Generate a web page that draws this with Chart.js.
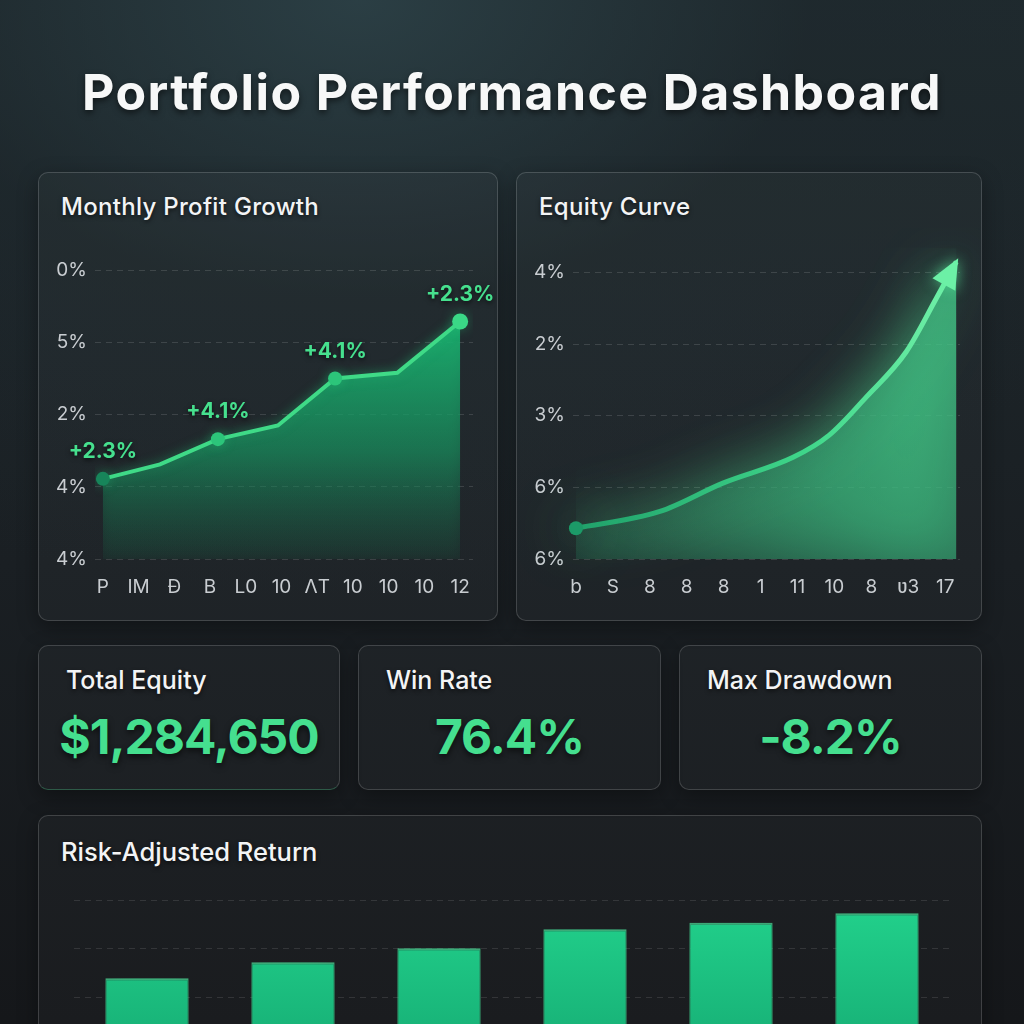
<!DOCTYPE html>
<html>
<head>
<meta charset="utf-8">
<script src="https://cdn.jsdelivr.net/npm/chart.js@4.4.1/dist/chart.umd.min.js"></script>
<style>
  html, body { margin: 0; padding: 0; width: 1024px; height: 1024px; overflow: hidden; }
  body {
    position: relative;
    font-family: Inter, "Liberation Sans", sans-serif;
    color: #f1f3f4;
    background:
      radial-gradient(ellipse 900px 600px at 35% 0%, rgba(45,66,72,0.85) 0%, rgba(30,40,45,0.5) 50%, rgba(0,0,0,0) 100%),
      linear-gradient(180deg, #1f2a2e 0%, #1a1f23 55%, #15171a 100%);
  }
  h1 {
    position: absolute; left: 0; top: 66px; width: 1024px; margin: 0;
    text-align: center; font-size: 50px; line-height: 52px; font-weight: 700; letter-spacing: 1.4px;
    color: #f7f8f8; text-shadow: 0 3px 6px rgba(0,0,0,0.55);
  }
  .card {
    position: absolute; box-sizing: border-box;
    border: 1.5px solid rgba(255,255,255,0.16); border-radius: 10px;
    background: rgba(255,255,255,0.025);
    box-shadow: 0 6px 20px rgba(0,0,0,0.35);
  }
  .card h2 {
    position: absolute; left: 22px; top: 21px; margin: 0;
    font-size: 24px; line-height: 26px; font-weight: 500; letter-spacing: 0.3px; color: #f3f4f5;
    text-shadow: 0 2px 4px rgba(0,0,0,0.6);
  }
  .kpi h2 { font-size: 25px; top: 21px; left: 27px; letter-spacing: 0; }
  .kpi .val {
    position: absolute; left: 0; right: 0; top: 66px; text-align: center;
    font-size: 48px; line-height: 50px; font-weight: 700; letter-spacing: -1px;
    color: #45df8f; text-shadow: 0 3px 6px rgba(0,0,0,0.6);
  }
  canvas { position: absolute; }
</style>
</head>
<body>
<h1>Portfolio Performance Dashboard</h1>

<div class="card" style="left:38px;top:172px;width:460px;height:449px;"><h2>Monthly Profit Growth</h2></div>
<div class="card" style="left:516px;top:172px;width:466px;height:449px;"><h2>Equity Curve</h2></div>

<div class="card kpi" style="left:38px;top:645px;width:302px;height:145px;border-bottom-color:rgba(80,200,140,0.35);"><h2>Total Equity</h2><div class="val">$1,284,650</div></div>
<div class="card kpi" style="left:358px;top:645px;width:303px;height:145px;"><h2>Win Rate</h2><div class="val">76.4%</div></div>
<div class="card kpi" style="left:679px;top:645px;width:303px;height:145px;"><h2>Max Drawdown</h2><div class="val">-8.2%</div></div>

<div class="card" style="left:38px;top:815px;width:944px;height:260px;"><h2 style="font-size:25.5px;top:23px;letter-spacing:0;">Risk-Adjusted Return</h2></div>

<canvas id="growth" width="456" height="370" style="left:40px;top:240px;"></canvas>
<canvas id="equity" width="462" height="382" style="left:518px;top:228px;"></canvas>
<canvas id="risk" width="876" height="166" style="left:74px;top:880px;"></canvas>

<script>
// Monthly Profit Growth
const growthTickX = ['P', 'IM', 'Đ', 'B', 'L0', '10', 'ΛT', '10', '10', '10', '12'];
const growthTickY = ['4%', '4%', '2%', '5%', '0%'];   // bottom to top
const growthX = [0, 1.6, 3.22, 4.9, 6.5, 8.24, 10];
const growthY = [1.11, 1.31, 1.66, 1.85, 2.50, 2.58, 3.29];
const growthTags = ['+2.3%', '', '+4.1%', '', '+4.1%', '', '+2.3%'];

// Equity Curve
const equityTickX = ['b', 'S', '8', '8', '8', '1', '11', '10', '8', 'ʋ3', '17'];
const equityTickY = ['6%', '6%', '3%', '2%', '4%'];   // bottom to top
const equityX = [0, 2.25, 3.98, 5.88, 6.86, 7.86, 8.94, 9.76, 10.3];
const equityY = [0.43, 0.66, 1.06, 1.42, 1.73, 2.26, 2.89, 3.64, 4.15];

// Risk-Adjusted Return
const riskCats = ['P1', 'P2', 'P3', 'P4', 'P5', 'P6'];
const riskValues = [1.39, 1.72, 2.01, 2.40, 2.53, 2.73];

const FONT = 'Inter, "Liberation Sans", sans-serif';
const tickColor = '#c9cdd1';
const gridColor = 'rgba(255,255,255,0.13)';

const glowPlugin = {
  id: 'glow',
  beforeDatasetsDraw(chart, args, opts) {
    const c = chart.ctx;
    c.save();
    c.shadowColor = opts.color;
    c.shadowBlur = opts.blur;
  },
  afterDatasetsDraw(chart) {
    chart.ctx.restore();
  }
};

const tagPlugin = {
  id: 'tags',
  afterDatasetsDraw(chart) {
    const ctx = chart.ctx;
    const pts = chart.getDatasetMeta(0).data;
    ctx.save();
    ctx.font = '700 21px ' + FONT;
    ctx.textAlign = 'center';
    ctx.textBaseline = 'middle';
    ctx.fillStyle = '#46e08e';
    ctx.shadowColor = 'rgba(0,0,0,0.65)';
    ctx.shadowBlur = 5;
    ctx.shadowOffsetY = 2;
    pts.forEach((p, i) => {
      if (growthTags[i]) ctx.fillText(growthTags[i], p.x, p.y - 27);
    });
    ctx.restore();
  }
};

const arrowPlugin = {
  id: 'arrow',
  afterDatasetsDraw(chart) {
    const ctx = chart.ctx;
    const pts = chart.getDatasetMeta(0).data;
    const tip = pts[pts.length - 1];
    const fromX = tip.cp1x !== undefined ? tip.cp1x : pts[pts.length - 2].x;
    const fromY = tip.cp1y !== undefined ? tip.cp1y : pts[pts.length - 2].y;
    const a = Math.atan2(tip.y - fromY, tip.x - fromX);
    const len = 30, half = 13;
    ctx.save();
    ctx.translate(tip.x, tip.y);
    ctx.rotate(a);
    ctx.beginPath();
    ctx.moveTo(4, 0);
    ctx.lineTo(4 - len, -half);
    ctx.lineTo(4 - len, half);
    ctx.closePath();
    ctx.shadowColor = 'rgba(90,240,160,0.7)';
    ctx.shadowBlur = 14;
    ctx.fillStyle = '#6cf0a6';
    ctx.fill();
    ctx.restore();
  }
};

function indexAxis(labels, extra) {
  return Object.assign({
    type: 'linear',
    afterBuildTicks: s => { s.ticks = labels.map((_, i) => ({ value: i })); },
    ticks: {
      callback: (v, i) => labels[i],
      color: tickColor,
      font: { family: FONT, size: 19 },
      autoSkip: false,
      maxRotation: 0,
      padding: 17
    },
    border: { display: false, dash: [6, 5] }
  }, extra);
}

function yAxis(labels, max) {
  const ax = indexAxis(labels, {
    min: 0, max: max,
    afterFit: s => { s.width = 55; },
    grid: { color: gridColor, drawTicks: false }
  });
  ax.ticks = Object.assign({}, ax.ticks, { padding: 8 });
  return ax;
}

new Chart(document.getElementById('growth'), {
  type: 'line',
  data: {
    datasets: [{
      data: growthX.map((x, i) => ({ x: x, y: growthY[i] })),
      borderColor: '#3fda87',
      borderWidth: 4,
      tension: 0,
      fill: 'origin',
      backgroundColor: c => {
        const { ctx, chartArea } = c.chart;
        if (!chartArea) return 'rgba(25,170,110,0.6)';
        const g = ctx.createLinearGradient(0, chartArea.top + 60, 0, chartArea.bottom);
        g.addColorStop(0, 'rgba(26,178,112,0.95)');
        g.addColorStop(0.55, 'rgba(22,140,92,0.6)');
        g.addColorStop(1, 'rgba(20,80,60,0.15)');
        return g;
      },
      pointRadius: [7, 0, 7, 0, 7, 0, 8],
      pointBackgroundColor: ['#17855a', '#2cc57a', '#2cc57a', '#2cc57a', '#2cc57a', '#2cc57a', '#3ad886'],
      pointBorderWidth: 0
    }]
  },
  options: {
    responsive: false,
    animation: false,
    layout: { padding: { top: 9, right: 23, left: 0, bottom: 0 } },
    scales: {
      x: indexAxis(growthTickX, {
        min: -0.22, max: 10.36,
        afterFit: s => { s.height = 51; },
        grid: { display: false, drawTicks: false }
      }),
      y: yAxis(growthTickY, 4.15)
    },
    plugins: {
      legend: { display: false },
      tooltip: { enabled: false },
      glow: { color: 'rgba(40,210,130,0.35)', blur: 12 }
    }
  },
  plugins: [glowPlugin, tagPlugin]
});

new Chart(document.getElementById('equity'), {
  type: 'line',
  data: {
    datasets: [{
      data: equityX.map((x, i) => ({ x: x, y: equityY[i] })),
      clip: false,
      borderColor: c => {
        const { ctx, chartArea } = c.chart;
        if (!chartArea) return '#4fe39a';
        const g = ctx.createLinearGradient(chartArea.left, 0, chartArea.right, 0);
        g.addColorStop(0, '#1f9f69');
        g.addColorStop(0.6, '#3fd68a');
        g.addColorStop(1, '#74f2aa');
        return g;
      },
      borderWidth: 5,
      borderCapStyle: 'butt',
      tension: 0.4,
      cubicInterpolationMode: 'monotone',
      fill: 'origin',
      backgroundColor: c => {
        const { ctx, chartArea } = c.chart;
        if (!chartArea) return 'rgba(60,190,130,0.4)';
        const g = ctx.createLinearGradient(chartArea.left, chartArea.bottom, chartArea.right, chartArea.top);
        g.addColorStop(0, 'rgba(30,100,75,0.25)');
        g.addColorStop(0.5, 'rgba(50,165,115,0.55)');
        g.addColorStop(1, 'rgba(70,205,140,0.75)');
        return g;
      },
      pointRadius: equityX.map((_, i) => (i === 0 ? 7 : 0)),
      pointBackgroundColor: '#1c9a68',
      pointBorderWidth: 0
    }]
  },
  options: {
    responsive: false,
    animation: false,
    layout: { padding: { top: 6, right: 20, left: 0, bottom: 0 } },
    scales: {
      x: indexAxis(equityTickX, {
        min: -0.08, max: 10.4,
        afterFit: s => { s.height = 51; },
        grid: { display: false, drawTicks: false }
      }),
      y: yAxis(equityTickY, 4.35)
    },
    plugins: {
      legend: { display: false },
      tooltip: { enabled: false },
      glow: { color: 'rgba(80,230,150,0.9)', blur: 55 }
    }
  },
  plugins: [glowPlugin, arrowPlugin]
});

new Chart(document.getElementById('risk'), {
  type: 'bar',
  data: {
    labels: riskCats,
    datasets: [{
      data: riskValues,
      backgroundColor: c => {
        const { ctx, chartArea } = c.chart;
        if (!chartArea) return '#1ec887';
        const g = ctx.createLinearGradient(0, chartArea.top, 0, chartArea.bottom);
        g.addColorStop(0, '#22d28c');
        g.addColorStop(1, '#17b076');
        return g;
      },
      borderColor: 'rgba(95,240,170,0.6)',
      borderWidth: { top: 2, left: 1, right: 1, bottom: 0 },
      borderSkipped: false,
      barPercentage: 0.57,
      categoryPercentage: 1
    }]
  },
  options: {
    responsive: false,
    animation: false,
    layout: { padding: { top: 20 } },
    scales: {
      x: { display: false },
      y: {
        min: 0, max: 3,
        afterFit: s => { s.width = 0; },
        ticks: { display: false, stepSize: 1 },
        grid: { color: 'rgba(255,255,255,0.11)', drawTicks: false },
        border: { display: false, dash: [6, 5] }
      }
    },
    plugins: {
      legend: { display: false },
      tooltip: { enabled: false },
      glow: { color: 'rgba(35,220,140,0.5)', blur: 24 }
    }
  },
  plugins: [glowPlugin]
});
</script>
</body>
</html>
